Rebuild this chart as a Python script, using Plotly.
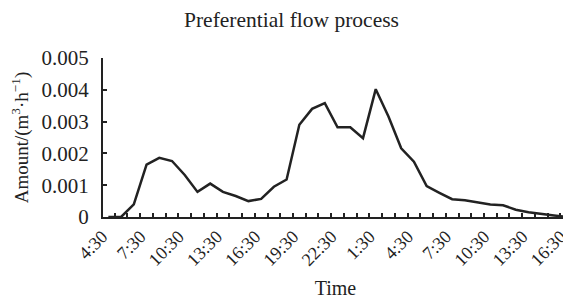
import plotly.graph_objects as go

time_labels = ["4:30", "5:30", "6:30", "7:30", "8:30", "9:30", "10:30", "11:30", "12:30",
               "13:30", "14:30", "15:30", "16:30", "17:30", "18:30", "19:30", "20:30", "21:30",
               "22:30", "23:30", "0:30", "1:30", "2:30", "3:30", "4:30", "5:30", "6:30",
               "7:30", "8:30", "9:30", "10:30", "11:30", "12:30", "13:30", "14:30", "15:30", "16:30"]
amount = [0.0, 0.0, 0.0004, 0.00165, 0.00186, 0.00176, 0.00132, 0.00079, 0.00105, 0.00079,
          0.00066, 0.0005, 0.00057, 0.00095, 0.00118, 0.0029, 0.0034, 0.00358, 0.00282,
          0.00282, 0.00248, 0.00402, 0.00316, 0.00216, 0.00174, 0.00097, 0.00076, 0.00056,
          0.00053, 0.00045, 0.00039, 0.00037, 0.00023, 0.00015, 0.00011, 0.00005, 0.0]
y_ticks = [0, 0.001, 0.002, 0.003, 0.004, 0.005]
y_tick_text = ["0", "0.001", "0.002", "0.003", "0.004", "0.005"]

idx = list(range(len(amount)))
label_idx = [i for i in idx if i % 3 == 0]

fig = go.Figure()
fig.add_trace(go.Scatter(x=idx, y=amount, mode="lines",
                         line=dict(color="#222222", width=2.5), hoverinfo="skip",
                         cliponaxis=False))

font = "Liberation Serif, Times New Roman, serif"
fig.update_layout(
    width=563, height=297,
    margin=dict(l=95, r=3, t=50, b=88, autoexpand=False),
    paper_bgcolor="white", plot_bgcolor="white",
    showlegend=False,
    font=dict(family=font, size=18, color="#222222"),
    title=dict(text="Preferential flow process", x=0.5035, xanchor="center",
               xref="container", y=0.96, yanchor="middle",
               font=dict(family=font, size=21.5, color="#222222")),
    xaxis=dict(
        range=[-0.42, 36.1],
        tickmode="array", tickvals=label_idx,
        ticktext=[time_labels[i] for i in label_idx],
        tickangle=-45, ticks="", ticklen=0, automargin=False,
        ticklabeloverflow="allow", ticklabelshift=-6,
        showgrid=False, zeroline=False,
        showline=True, linecolor="#222222", linewidth=2,
        tickfont=dict(family=font, size=18, color="#222222"),
        minor=dict(tick0=0.5, dtick=1, ticks="inside", ticklen=4,
                   tickcolor="#222222", tickwidth=1.5, showgrid=False),
        title=dict(text="Time", standoff=12, font=dict(family=font, size=20, color="#222222")),
    ),
    yaxis=dict(
        range=[0, 0.005],
        tickmode="array", tickvals=y_ticks, ticktext=y_tick_text,
        ticks="inside", ticklen=4, tickwidth=1.5, tickcolor="#222222",
        ticklabelstandoff=8,
        showgrid=False, zeroline=False, automargin=False,
        showline=True, linecolor="#222222", linewidth=2,
        tickfont=dict(family=font, size=21, color="#222222"),
        title=dict(text="Amount/(m<sup>3</sup>·h<sup>−1</sup>)", standoff=10,
                   font=dict(family=font, size=19, color="#222222")),
    ),
)

fig.write_html("out.html")
